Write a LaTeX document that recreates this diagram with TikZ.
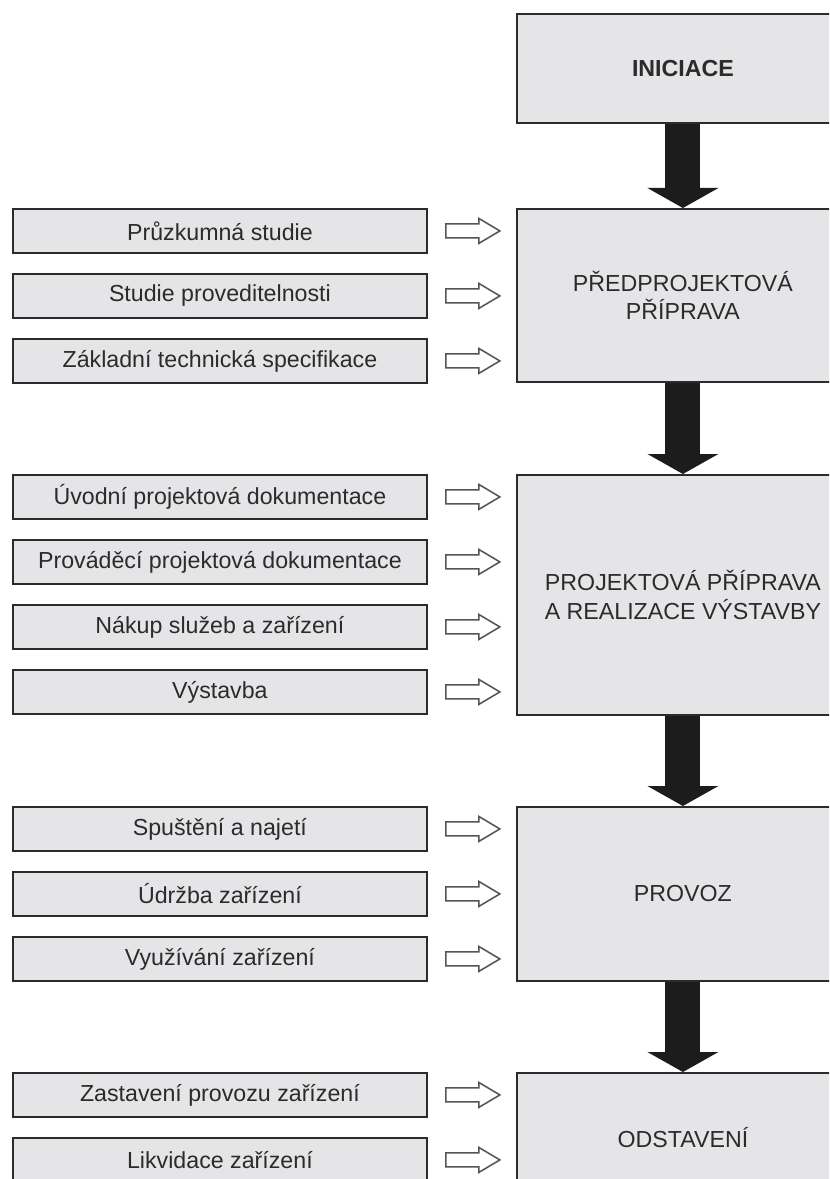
\documentclass[tikz,border=0pt]{standalone}
\usepackage{fontspec}
\setmainfont{Liberation Sans}
\usetikzlibrary{arrows.meta}

\definecolor{boxfill}{HTML}{E5E5E7}
\definecolor{boxline}{HTML}{2B2B2B}
\definecolor{feedline}{HTML}{555555}
\definecolor{flowblack}{HTML}{1C1C1C}

\begin{document}
\begin{tikzpicture}[
    stage/.style ={draw=boxline, fill=boxfill, line width=1.3pt, text=boxline,
                   minimum width=8.3cm, anchor=north west, align=center, inner sep=0pt,
                   font=\fontsize{16.5}{20.5}\selectfont},
    task/.style ={draw=boxline, fill=boxfill, line width=1.3pt, text=boxline,
                  minimum width=10.35cm, minimum height=1.1cm, anchor=north west, inner sep=0pt,
                  font=\fontsize{16.5}{20.5}\selectfont},
    flow/.style ={draw=flowblack, line width=0.875cm,
                  -{Triangle[length=0.5cm, width=1.775cm, line width=0pt]}},
    feed/.style ={draw=feedline, fill=white, line width=1.1pt, line join=miter}]
   \clip (0,0) rectangle (20.725,-29.475);

   % phases
   \node[stage, minimum height=2.725cm, font=\fontsize{16.5}{20.5}\selectfont\bfseries] (ini) at (12.9,-0.325) {INICIACE};
   \node[stage, minimum height=4.325cm] (pre)  at (12.9,-5.2)   {PŘEDPROJEKTOVÁ\\PŘÍPRAVA};
   \node[stage, minimum height=6.0cm]   (proj) at (12.9,-11.85) {PROJEKTOVÁ PŘÍPRAVA\\A REALIZACE VÝSTAVBY};
   \node[stage, minimum height=4.35cm]  (prov) at (12.9,-20.15) {PROVOZ};
   \node[stage, minimum height=3.25cm]  (odst) at (12.9,-26.8)  {ODSTAVENÍ};

   % activities
   \node[task] (pr1) at (0.3,-5.2)   {Průzkumná studie};
   \node[task] (pr2) at (0.3,-6.825) {Studie proveditelnosti};
   \node[task] (pr3) at (0.3,-8.45)  {Základní technická specifikace};

   \node[task] (pj1) at (0.3,-11.85)  {Úvodní projektová dokumentace};
   \node[task] (pj2) at (0.3,-13.475) {Prováděcí projektová dokumentace};
   \node[task] (pj3) at (0.3,-15.1)   {Nákup služeb a zařízení};
   \node[task] (pj4) at (0.3,-16.725) {Výstavba};

   \node[task] (pv1) at (0.3,-20.15)  {Spuštění a najetí};
   \node[task] (pv2) at (0.3,-21.775) {Údržba zařízení};
   \node[task] (pv3) at (0.3,-23.4)   {Využívání zařízení};

   \node[task] (od1) at (0.3,-26.8)   {Zastavení provozu zařízení};
   \node[task] (od2) at (0.3,-28.425) {Likvidace zařízení};

   % phase to phase
   \draw[flow] (ini.south)  to (pre.north);
   \draw[flow] (pre.south)  to (proj.north);
   \draw[flow] (proj.south) to (prov.north);
   \draw[flow] (prov.south) to (odst.north);

   % activity arrows
   \foreach \t in {pr1,pr2,pr3,pj1,pj2,pj3,pj4,pv1,pv2,pv3,od1,od2}
     \draw[feed] ([xshift=0.45cm,yshift=0.175cm]\t.east) -- ++(0.825,0) -- ++(0,0.1375)
       -- ++(0.525,-0.3125) -- ++(-0.525,-0.3125) -- ++(0,0.1375) -- ++(-0.825,0) -- cycle;
 \end{tikzpicture}
\end{document}
